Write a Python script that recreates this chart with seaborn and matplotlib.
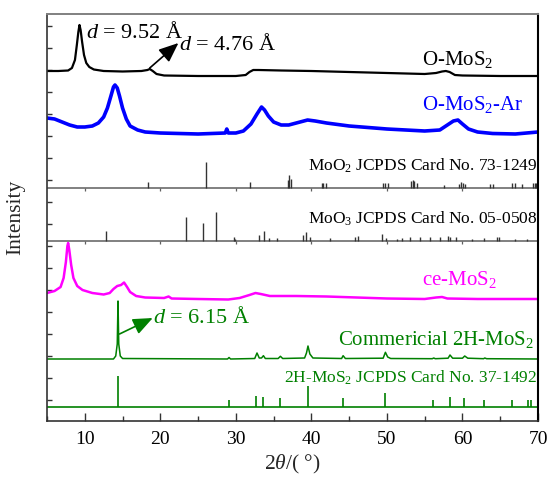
import numpy as np
import pandas as pd
import matplotlib
matplotlib.use("Agg")
import matplotlib.pyplot as plt
import seaborn as sns

# ---------------- data (2theta in degrees, intensity in arbitrary units) ----------------
omos2_tt = [5.0, 6.5, 7.8, 8.3, 8.7, 8.95, 9.15, 9.3, 9.45, 9.65, 9.9, 10.2, 10.6, 11.2, 12.5, 15.0,
            17.5, 18.3, 18.6, 19.0, 19.5, 20.5, 25.0, 30.0, 31.3, 31.8, 32.3, 33.0, 36.0, 40.0, 45.0,
            50.0, 55.0, 56.5, 57.3, 57.8, 58.3, 59.0, 60.0, 65.0, 70.0]
omos2_I = [5, 5, 5.5, 8, 16, 31, 44, 51, 46, 34, 21, 13, 9, 6.5, 5, 4.5,
           5, 6, 7, 5, 2, 0.5, 0, 0, 1, 4, 6, 6, 5.5, 5, 4,
           3, 2, 3, 4.5, 5, 4, 1, 0.5, 0, 0]

omos2ar_tt = [5.0, 6.0, 7.0, 8.0, 9.0, 10.0, 11.0, 11.8, 12.5, 13.0, 13.5, 13.8, 14.0, 14.3, 14.6, 15.0,
              15.5, 16.0, 17.0, 18.0, 20.0, 25.0, 28.6, 28.8, 29.0, 30.0, 31.0, 32.0, 32.8, 33.4, 33.8,
              34.3, 35.0, 36.0, 37.0, 38.5, 39.5, 40.5, 42.0, 45.0, 50.0, 55.0, 57.0, 58.0, 58.8, 59.4,
              60.0, 60.8, 62.0, 64.0, 67.0, 70.0]
omos2ar_I = [16, 15, 12, 9, 7, 7, 8, 11, 17, 26, 39, 47, 49, 46, 38, 26,
             15, 8, 4, 2, 1, 0, 1, 5, 1, 1, 3, 10, 20, 27, 24,
             18, 12, 9, 9, 12, 14, 13, 11, 8, 5, 3, 4, 9, 13, 14,
             10, 5, 2, 0.5, 0, 2]

cemos2_tt = [5.0, 6.0, 6.8, 7.2, 7.5, 7.7, 7.8, 7.95, 8.2, 8.5, 9.0, 9.7, 11.0, 12.5, 13.3, 13.8, 14.3,
             14.8, 15.2, 15.6, 16.0, 16.8, 18.0, 20.5, 21.1, 21.5, 25.0, 29.0, 30.5, 31.8, 32.6, 33.3,
             34.5, 38.0, 42.0, 46.0, 50.0, 55.0, 56.5, 57.3, 58.0, 62.0, 70.0]
cemos2_I = [6, 8, 12, 21, 37, 53, 56, 49, 34, 21, 13, 9, 6, 4.5, 6, 10, 13,
            14, 16.5, 12, 7, 3, 1.5, 1, 2.5, 0.5, 0, -0.5, 1, 4, 6, 5,
            3, 3, 2.5, 1.5, 0.5, 0, 1.5, 2, 0.5, 0, 0]

comm_tt = [5.0, 13.8, 14.1, 14.3, 14.4, 14.5, 14.7, 15.0, 28.9, 29.1, 29.3, 32.5, 32.8, 33.1, 33.4, 33.65,
           33.9, 35.6, 35.9, 36.2, 39.1, 39.35, 39.55, 39.8, 40.2, 44.0, 44.2, 44.5, 49.5, 49.8, 50.1,
           50.5, 56.0, 56.2, 56.4, 58.1, 58.35, 58.7, 60.0, 60.3, 60.7, 62.8, 62.95, 63.2, 70.0]
comm_I = [0, 0, 3, 15, 58, 15, 3, 0.5, 0, 1.5, 0, 0.5, 6, 1, 1, 3.3,
          0.5, 0.5, 2.7, 0.5, 1, 6, 13, 5, 1, 0.5, 3.3, 0.5, 0.8, 6.7, 2,
          0.5, 0.3, 1, 0.3, 0.8, 4, 0.8, 0.8, 3, 0.8, 0.3, 1, 0.3, 0]

moo2_pos = [18.4, 26.05, 31.9, 36.9, 37.1, 37.35, 41.4, 41.6, 41.9, 49.5, 49.8, 50.2, 53.2, 53.4, 53.6,
            54.0, 57.5, 59.5, 59.8, 60.1, 60.4, 63.6, 64.0, 66.5, 66.9, 67.9, 69.4, 69.6, 69.8]
moo2_h = [6, 26, 6, 8, 13, 9, 5, 5, 5, 5, 5, 5, 7, 8, 7,
          5, 3, 4, 6, 5, 4, 4, 4, 5, 5, 4, 5, 5, 5]

moo3_pos = [12.77, 23.35, 25.7, 27.35, 29.75, 29.95, 33.1, 33.75, 34.35, 35.5, 38.95, 39.3, 39.8, 42.45,
            45.8, 46.2, 49.3, 49.9, 51.3, 52.0, 53.1, 54.4, 55.7, 57.05, 58.1, 58.4, 59.1, 61.25, 62.8,
            64.6, 64.9, 67.0, 68.5]
moo3_h = [10, 24, 18, 29, 4, 2, 6, 10, 3, 3, 6, 9, 4, 3,
          4, 5, 7, 3, 2, 3, 4, 4, 4, 4, 5, 4, 4, 2, 3,
          4, 4, 2, 2]

h2_pos = [14.4, 29.05, 32.7, 33.55, 35.9, 39.55, 44.2, 49.8, 56.05, 58.35, 60.15, 62.8, 66.55, 68.7, 69.1]
h2_h = [31, 7, 11.5, 10, 9, 21, 9, 14, 7.5, 10, 9, 7.5, 7.5, 7.5, 7.5]

xticks = [10, 20, 30, 40, 50, 60, 70]

# vertical stacking offsets
off_omos2, off_omos2ar, off_moo2, off_moo3, off_ce, off_comm, off_h2 = 345, 287, 233, 180, 122, 62, 14

# ---------------- style ----------------
sns.set_theme(style="ticks")
plt.rcParams['font.family'] = ['Liberation Serif', 'DejaVu Serif']
plt.rcParams['mathtext.fontset'] = 'custom'
plt.rcParams['mathtext.rm'] = 'Liberation Serif'
plt.rcParams['mathtext.it'] = 'Liberation Serif:italic'
plt.rcParams['mathtext.bf'] = 'Liberation Serif:bold'

GREEN = '#008000'
BLUE = '#0000FF'
MAG = '#FF00FF'

fig = plt.figure(figsize=(5.49, 4.80), dpi=100)
ax = fig.add_axes([47 / 549, 1 - 421 / 480, (538 - 47) / 549, (421 - 14) / 480])


def curve(tt, I, off, color, lw):
    df = pd.DataFrame({'tt': tt, 'I': np.asarray(I, float) + off})
    sns.lineplot(data=df, x='tt', y='I', ax=ax, color=color, lw=lw,
                 estimator=None, sort=False, legend=False)


curve(omos2_tt, omos2_I, off_omos2, 'black', 1.6)
curve(omos2ar_tt, omos2ar_I, off_omos2ar, BLUE, 2.6)
curve(cemos2_tt, cemos2_I, off_ce, MAG, 1.8)
curve(comm_tt, comm_I, off_comm, GREEN, 1.1)

# reference cards
for base in (off_moo2, off_moo3):
    ax.axhline(base, color='#808080', lw=1.4, zorder=1)
    ax.vlines(xticks[:-1], base - 3, base, color='#606060', lw=0.9)
ax.vlines(moo2_pos, off_moo2, off_moo2 + np.asarray(moo2_h), color='#333333', lw=1.0)
ax.vlines(moo3_pos, off_moo3, off_moo3 + np.asarray(moo3_h), color='#333333', lw=1.0)
ax.axhline(off_h2, color=GREEN, lw=1.2)
ax.vlines(h2_pos, off_h2, off_h2 + np.asarray(h2_h), color=GREEN, lw=1.2)

# labels
fs_lab = 15
fs_card = 12.5
fs_d = 16
ax.text(64.1, 356, r'O-MoS$_2$', ha='right', va='baseline', fontsize=fs_lab, color='black')
ax.text(68.1, 311, r'O-MoS$_2$-Ar', ha='right', va='baseline', fontsize=fs_lab, color=BLUE)
ax.text(69.9, 250, r'MoO$_2$ JCPDS Card No. 73-1249', ha='right', va='baseline', fontsize=fs_card, color='black')
ax.text(69.9, 197, r'MoO$_3$ JCPDS Card No. 05-0508', ha='right', va='baseline', fontsize=fs_card, color='black')
ax.text(64.6, 136, r'ce-MoS$_2$', ha='right', va='baseline', fontsize=fs_lab, color=MAG)
ax.text(69.5, 76, r'Commericial 2H-MoS$_2$', ha='right', va='baseline', fontsize=fs_lab, color=GREEN)
ax.text(69.9, 38, r'2H-MoS$_2$ JCPDS Card No. 37-1492', ha='right', va='baseline', fontsize=fs_card, color=GREEN)

arrow_style = '-|>,head_length=0.6,head_width=0.25'
ax.text(10.1, 383, r'$d$ = 9.52 Å', ha='left', va='baseline', fontsize=fs_d, color='black')
ax.text(22.5, 371, r'$d$ = 4.76 Å', ha='left', va='baseline', fontsize=fs_d, color='black')
ax.annotate('', xy=(22.4, 378), xytext=(18.6, 353),
            arrowprops=dict(arrowstyle=arrow_style, color='black', lw=1.2, mutation_scale=20,
                            shrinkA=0, shrinkB=0))
ax.text(19.0, 98, r'$d$ = 6.15 Å', ha='left', va='baseline', fontsize=fs_d, color=GREEN)
ax.annotate('', xy=(19.0, 103), xytext=(14.6, 87),
            arrowprops=dict(arrowstyle=arrow_style, color=GREEN, lw=1.2, mutation_scale=20,
                            shrinkA=0, shrinkB=0))

# axes
ax.set_xlim(5, 70)
ax.set_ylim(0, 407)
ax.set_xticks(xticks)
ax.set_xticks(np.arange(5, 70, 10), minor=True)
ax.set_yticks(np.arange(21, 400, 22))
ax.set_yticklabels([])
ax.tick_params(axis='x', which='major', direction='in', length=6, width=1, labelsize=14, pad=7,
               colors='#333333', labelcolor='black')
ax.tick_params(axis='x', which='minor', direction='in', length=3.5, width=1, colors='#333333')
ax.tick_params(axis='y', which='major', direction='in', length=3.5, width=1, colors='#333333')
ax.set_xlabel(r'2$\mathit{\theta}$/( °)', fontsize=15.5, labelpad=4)
ax.set_ylabel('Intensity', fontsize=15.5, labelpad=12)
for s in ('left', 'bottom'):
    ax.spines[s].set_color('#333333')
    ax.spines[s].set_linewidth(1.2)
ax.spines['top'].set_color('#808080')
ax.spines['top'].set_linewidth(1.4)
ax.spines['right'].set_color('black')
ax.spines['right'].set_linewidth(1.5)
ax.set_facecolor('white')
fig.patch.set_facecolor('white')

fig.savefig('out.png', dpi=100)
